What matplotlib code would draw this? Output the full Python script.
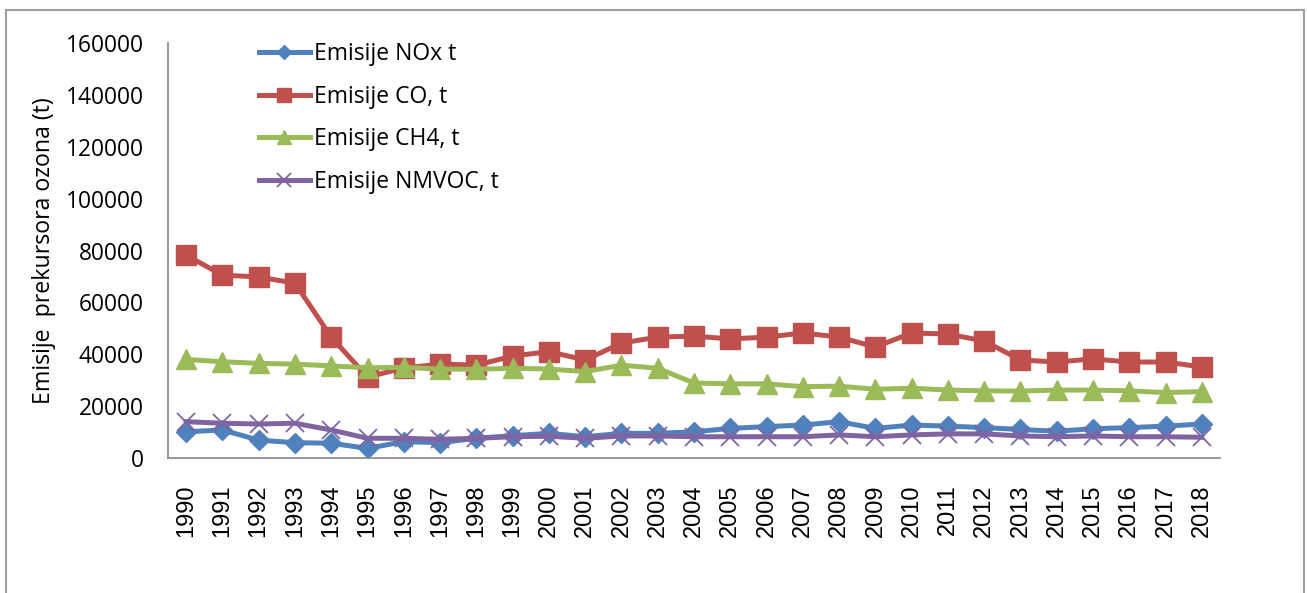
import numpy as np
import matplotlib
matplotlib.use("Agg")
import matplotlib.pyplot as plt
from matplotlib.patches import Rectangle

years = list(range(1990, 2019))

# emisije po godinama (t), procjena sa grafika
nox = [10100, 10800, 6900, 5900, 5700, 3700, 6300, 5900, 7600, 8600, 9500,
       8200, 9500, 9500, 10100, 11400, 12100, 12700, 14000, 11400, 12700,
       12300, 11700, 11000, 10300, 11300, 11700, 12300, 13100]
co = [78200, 70500, 69800, 67400, 46600, 31200, 34700, 36200, 35800, 39300, 41000,
      37800, 44300, 46600, 47000, 45900, 46600, 48200, 46600, 42800, 48200,
      47800, 45100, 37800, 37000, 38200, 37000, 37000, 35100]
ch4 = [38000, 37100, 36500, 36200, 35500, 34800, 34900, 34300, 34200, 34600, 34300,
       33300, 35800, 34600, 28900, 28600, 28600, 27500, 27700, 26500, 26900,
       26200, 25900, 25800, 26200, 26200, 25900, 25200, 25600]
nmvoc = [14000, 13400, 13100, 13400, 10800, 7600, 7600, 7200, 7600, 8200, 8400,
         7600, 8500, 8500, 8200, 8200, 8200, 8200, 8900, 8200, 8900,
         9300, 9300, 8500, 8200, 8500, 8200, 8200, 8000]

labels = ['Emisije NOx t', 'Emisije CO, t', 'Emisije CH4, t', 'Emisije NMVOC, t']
yticks = [0, 20000, 40000, 60000, 80000, 100000, 120000, 140000, 160000]

W, H = 1307, 593
fig = plt.figure(figsize=(W / 100, H / 100), dpi=100)
ax = fig.add_axes([168 / W, 1 - 458 / H, (1220 - 168) / W, (458 - 43) / H])

# okvir grafika
fig.patches.append(Rectangle((6 / W, -0.1), (1304 - 6) / W, 1.1 - 10 / H,
                             transform=fig.transFigure, fill=False,
                             edgecolor='#a0a0a0', linewidth=1.5))

x = np.arange(len(years))
ax.plot(x, nox, color='#4F81BD', lw=3.6, marker='D', ms=10, label=labels[0])
ax.plot(x, co, color='#C0504D', lw=3.6, marker='s', ms=14, label=labels[1])
ax.plot(x, ch4, color='#9BBB59', lw=3.6, marker='^', ms=14, label=labels[2])
ax.plot(x, nmvoc, color='#8064A2', lw=3.6, marker='x', ms=13, mew=1.3, label=labels[3])

ax.set_xlim(-0.5, len(years) - 0.5)
ax.set_ylim(0, 160000)
ax.set_yticks(yticks)
ax.set_yticklabels([str(v) for v in yticks], fontfamily='Open Sans', fontsize=16.4)
ax.set_xticks(x)
ax.set_xticklabels([str(y) for y in years], rotation=90, fontfamily='Liberation Sans', fontsize=17)
ax.tick_params(axis='y', length=0, pad=17.5)
ax.tick_params(axis='x', length=0, pad=19)

for s in ['top', 'right']:
    ax.spines[s].set_visible(False)
for s in ['left', 'bottom']:
    ax.spines[s].set_color('#888888')
    ax.spines[s].set_linewidth(1.2)

ax.set_ylabel('Emisije  prekursora ozona (t)', fontfamily='Open Sans', fontsize=16.7, labelpad=7)

leg = ax.legend(loc='upper left', bbox_to_anchor=(0.078, 1.025), frameon=False,
                prop={'family': 'Open Sans', 'size': 16.5}, handlelength=2.2,
                handletextpad=0.2, labelspacing=0.82, borderaxespad=0, markerscale=0.75)

fig.savefig('out.png', dpi=100)
